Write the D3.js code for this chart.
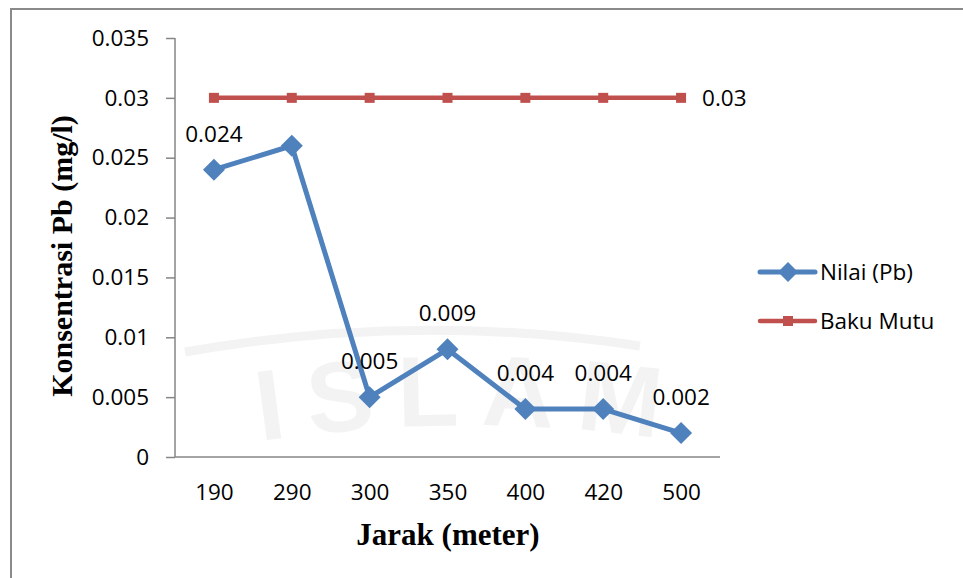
<!DOCTYPE html>
<html>
<head>
<meta charset="utf-8">
<script src="https://cdn.jsdelivr.net/npm/d3@7"></script>
<style>
  body { margin: 0; background: #fff; }
  svg { display: block; }
  .tick text { font-family: "Open Sans", sans-serif; font-size: 22.5px; fill: #000; }
</style>
</head>
<body>
<svg id="chart" width="963" height="578"></svg>
<script>
// data
const categories = ["190", "290", "300", "350", "400", "420", "500"]
const nilaiPb = [0.024, 0.026, 0.005, 0.009, 0.004, 0.004, 0.002]
const bakuMutu = [0.03, 0.03, 0.03, 0.03, 0.03, 0.03, 0.03]
const nilaiLabels = ["0.024", null, "0.005", "0.009", "0.004", "0.004", "0.002"]
const yTicks = [0, 0.005, 0.01, 0.015, 0.02, 0.025, 0.03, 0.035]

const blue = "#4f81bd", red = "#c0504d", axisGrey = "#868686"
const plot = { left: 175, right: 720, top: 38, bottom: 457 }

const svg = d3.select("#chart")

// faint watermark behind the chart
const wm = svg.append("g").attr("fill", "#f3f3f3").attr("stroke", "none")
svg.append("defs").append("path")
    .attr("id", "wmArc")
    .attr("d", "M 120,470 A 1400,1400 0 0 1 820,470")
wm.append("path")
    .attr("d", "M 185,352 A 1400,1400 0 0 1 640,346")
    .attr("fill", "none").attr("stroke", "#f3f3f3").attr("stroke-width", 9)
wm.append("text")
    .attr("font-family", "Arial, sans-serif").attr("font-weight", "bold").attr("font-size", 100)
    .attr("letter-spacing", 22)
    .append("textPath").attr("href", "#wmArc").attr("startOffset", "50%").attr("text-anchor", "middle")
    .text("ISLAM")

// outer frame (left and top edges visible)
svg.append("rect")
    .attr("x", 11).attr("y", 9).attr("width", 1000).attr("height", 700)
    .attr("fill", "none").attr("stroke", "#8a8a8a").attr("stroke-width", 2)

const x = d3.scalePoint().domain(categories).range([plot.left, plot.right]).padding(0.5)
const y = d3.scaleLinear().domain([0, 0.035]).range([plot.bottom, plot.top])

// axes
const yAxis = svg.append("g")
    .attr("transform", `translate(${plot.left},0)`)
    .call(d3.axisLeft(y).tickValues(yTicks).tickFormat(d => String(+d.toFixed(3))).tickSize(9).tickPadding(17))
yAxis.select(".domain").attr("stroke", axisGrey).attr("stroke-width", 1.5).attr("d", `M0,${plot.top}V${plot.bottom}`)
yAxis.selectAll(".tick line").attr("stroke", axisGrey).attr("stroke-width", 1.5)

const xAxis = svg.append("g")
    .attr("transform", `translate(0,${plot.bottom})`)
    .call(d3.axisBottom(x).tickSize(0).tickPadding(27))
xAxis.select(".domain").attr("stroke", axisGrey).attr("stroke-width", 1.5).attr("d", `M${plot.left},0H${plot.right}`)

// axis titles
svg.append("text")
    .attr("x", 448).attr("y", 545)
    .attr("text-anchor", "middle")
    .attr("font-family", "'Liberation Serif', 'Times New Roman', serif")
    .attr("font-weight", "bold").attr("font-size", 31)
    .text("Jarak (meter)")

svg.append("text")
    .attr("transform", "translate(72,256) rotate(-90)")
    .attr("text-anchor", "middle")
    .attr("font-family", "'Liberation Serif', 'Times New Roman', serif")
    .attr("font-weight", "bold").attr("font-size", 30)
    .text("Konsentrasi Pb (mg/l)")

const line = d3.line().x((d, i) => x(categories[i])).y(d => y(d))
const diamond = r => `M0,${-r}L${r},0L0,${r}L${-r},0Z`

// Baku Mutu series
svg.append("path")
    .attr("d", line(bakuMutu))
    .attr("fill", "none").attr("stroke", red).attr("stroke-width", 4.5)
svg.selectAll(".sq")
    .data(bakuMutu).join("rect")
    .attr("x", (d, i) => x(categories[i]) - 5).attr("y", d => y(d) - 5)
    .attr("width", 10).attr("height", 10).attr("fill", red)
svg.append("text")
    .attr("x", x(categories[categories.length - 1]) + 21)
    .attr("y", y(bakuMutu[bakuMutu.length - 1]))
    .attr("dy", "0.35em")
    .attr("font-family", "'Open Sans', sans-serif").attr("font-size", 22.5)
    .text(bakuMutu[bakuMutu.length - 1])

// Nilai (Pb) series
svg.append("path")
    .attr("d", line(nilaiPb))
    .attr("fill", "none").attr("stroke", blue).attr("stroke-width", 5)
    .attr("stroke-linejoin", "round")
svg.selectAll(".dm")
    .data(nilaiPb).join("path")
    .attr("transform", (d, i) => `translate(${x(categories[i])},${y(d)})`)
    .attr("d", diamond(11)).attr("fill", blue)

const labelled = nilaiPb
    .map((v, i) => ({ cat: categories[i], v, label: nilaiLabels[i] }))
    .filter(d => d.label !== null)
svg.selectAll(".lbl")
    .data(labelled).join("text")
    .attr("x", d => x(d.cat))
    .attr("y", d => y(d.v) - 36)
    .attr("dy", "0.35em")
    .attr("text-anchor", "middle")
    .attr("font-family", "'Open Sans', sans-serif").attr("font-size", 22.5)
    .text(d => d.label)

// legend
const legend = svg.append("g").attr("transform", "translate(760,0)")
const items = [
    { name: "Nilai (Pb)", color: blue, y: 272, mark: "diamond" },
    { name: "Baku Mutu", color: red, y: 321, mark: "square" }
]
items.forEach(it => {
    const g = legend.append("g").attr("transform", `translate(0,${it.y})`)
    g.append("line").attr("x1", 0).attr("x2", 55)
        .attr("stroke", it.color).attr("stroke-width", it.mark === "diamond" ? 5 : 4.5)
        .attr("stroke-linecap", "round")
    if (it.mark === "diamond") g.append("path").attr("transform", "translate(28,0)").attr("d", diamond(10)).attr("fill", it.color)
    else g.append("rect").attr("x", 23).attr("y", -5).attr("width", 10).attr("height", 10).attr("fill", it.color)
    g.append("text").attr("x", 60).attr("dy", "0.35em")
        .attr("font-family", "'Open Sans', sans-serif").attr("font-size", 22.5)
        .text(it.name)
})
</script>
</body>
</html>
